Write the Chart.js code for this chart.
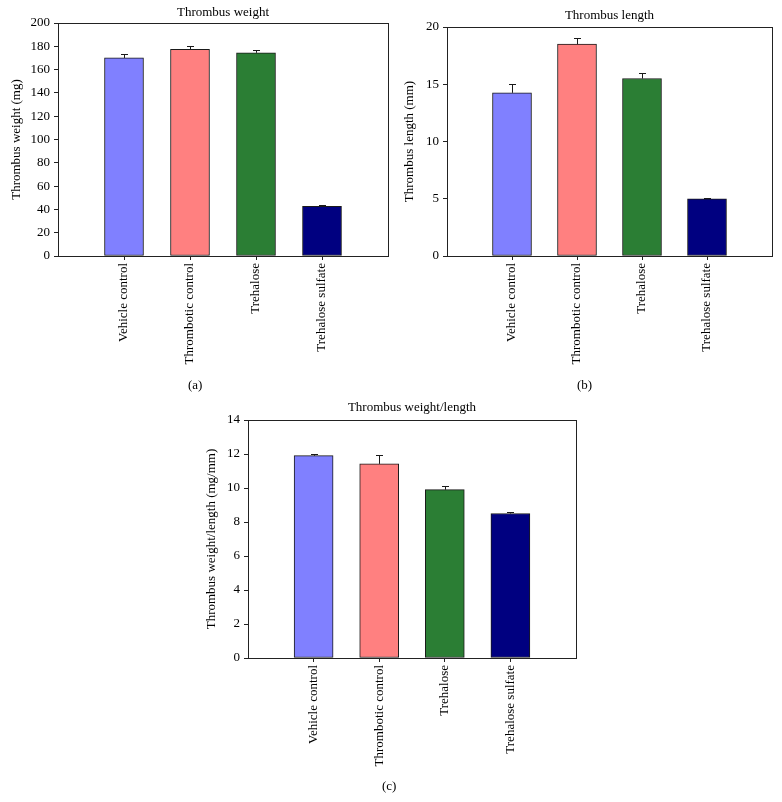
<!DOCTYPE html>
<html>
<head>
<meta charset="utf-8">
<script src="https://cdn.jsdelivr.net/npm/chart.js@4/dist/chart.umd.min.js"></script>
<style>
  html, body { margin: 0; padding: 0; background: #fff; }
  body { width: 782px; height: 802px; position: relative; overflow: hidden; }
  canvas { position: absolute; }
  .panel-label { position: absolute; font-family: 'Liberation Serif', serif; font-size: 13px; color: #000; }
</style>
</head>
<body>
<canvas id="chartA" width="408" height="375" style="left:0px;top:0px"></canvas>
<canvas id="chartB" width="392" height="375" style="left:400px;top:0px"></canvas>
<canvas id="chartC" width="401" height="390" style="left:195px;top:390px"></canvas>
<div class="panel-label" style="left:188px;top:377px">(a)</div>
<div class="panel-label" style="left:577px;top:377px">(b)</div>
<div class="panel-label" style="left:382px;top:778px">(c)</div>
<script>
// ---- data ----
const categories = ['Vehicle control', 'Thrombotic control', 'Trehalose', 'Trehalose sulfate'];
const weightMeans = [170, 177.4, 174.4, 42.6];
const weightErrors = [3, 3, 2, 0.8];
const lengthMeans = [14.25, 18.5, 15.5, 5.0];
const lengthErrors = [0.75, 0.5, 0.5, 0.05];
const ratioMeans = [11.9, 11.42, 9.9, 8.5];
const ratioErrors = [0.08, 0.55, 0.24, 0.08];
const weightTicks = [0, 20, 40, 60, 80, 100, 120, 140, 160, 180, 200];
const lengthTicks = [0, 5, 10, 15, 20];
const ratioTicks = [0, 2, 4, 6, 8, 10, 12, 14];
const barColors = ['#8080FF', '#FF8080', '#2B7E34', '#000080'];

// ---- helpers ----
const pad = arr => [null, ...arr, null];
const paddedLabels = ['', ...categories, ''];

Chart.defaults.font.family = "'Liberation Serif', 'Times New Roman', serif";
Chart.defaults.font.size = 13;
Chart.defaults.color = '#000';

const errorBars = {
  id: 'errorBars',
  afterDatasetsDraw(chart, args, opts) {
    const errs = opts.errors;
    if (!errs) return;
    const meta = chart.getDatasetMeta(0);
    const vals = chart.data.datasets[0].data;
    const ys = chart.scales.y;
    const ctx = chart.ctx;
    ctx.save();
    ctx.strokeStyle = opts.color || '#000';
    ctx.lineWidth = 1;
    meta.data.forEach((bar, i) => {
      const v = vals[i], e = errs[i];
      if (v == null || e == null) return;
      const x = Math.round(bar.x) + 0.5;
      const y0 = ys.getPixelForValue(v);
      const y1 = Math.round(ys.getPixelForValue(v + e)) + 0.5;
      ctx.beginPath();
      ctx.moveTo(x, y0);
      ctx.lineTo(x, y1);
      ctx.moveTo(x - opts.capHalf, y1);
      ctx.lineTo(x + opts.capHalf, y1);
      ctx.stroke();
    });
    ctx.restore();
  }
};

function makeChart(id, means, errors, ticks, title, yTitle, L) {
  const lineColor = '#222';
  return new Chart(document.getElementById(id), {
    type: 'bar',
    data: {
      labels: paddedLabels,
      datasets: [{
        data: pad(means),
        backgroundColor: pad(barColors),
        borderColor: '#1a1a1a',
        borderWidth: 1,
        borderSkipped: false,
        barThickness: 39
      }]
    },
    options: {
      responsive: false,
      animation: false,
      devicePixelRatio: 1,
      layout: { padding: 0 },
      plugins: {
        legend: { display: false },
        tooltip: { enabled: false },
        title: {
          display: true,
          text: title,
          fullSize: false,
          font: { size: 13, weight: 'normal' },
          color: '#000',
          padding: { top: L.titleTop, bottom: L.titleBottom }
        },
        errorBars: { errors: pad(errors), color: '#1a1a1a', capHalf: 3.5 }
      },
      scales: {
        x: {
          type: 'category',
          position: 'bottom',
          offset: false,
          grid: {
            offset: false,
            drawOnChartArea: false,
            drawTicks: true,
            tickLength: 4,
            color: c => (c.index === 0 || c.index === paddedLabels.length - 1) ? 'rgba(0,0,0,0)' : lineColor
          },
          border: { display: true, color: lineColor, width: 1 },
          ticks: { autoSkip: false, minRotation: 90, maxRotation: 90, padding: 3, color: '#000' },
          afterFit: s => { s.height = L.xHeight; }
        },
        x2: {
          type: 'category',
          axis: 'x',
          position: 'top',
          offset: false,
          grid: { display: true, drawOnChartArea: false, drawTicks: false, color: 'rgba(0,0,0,0)' },
          border: { display: true, color: lineColor, width: 1 },
          ticks: { display: false },
          afterFit: s => { s.height = 0; }
        },
        y: {
          type: 'linear',
          position: 'left',
          min: ticks[0],
          max: ticks[ticks.length - 1],
          afterBuildTicks: s => { s.ticks = ticks.map(v => ({ value: v })); },
          grid: { drawOnChartArea: false, drawTicks: true, tickLength: 4, color: lineColor },
          border: { display: true, color: lineColor, width: 1 },
          ticks: { padding: 4, color: '#000' },
          title: { display: true, text: yTitle, font: { size: 13 }, color: '#000', padding: { top: L.yTitlePad, bottom: 0 } },
          afterFit: s => { s.width = L.yWidth; }
        },
        y2: {
          type: 'linear',
          axis: 'y',
          position: 'right',
          grid: { display: true, drawOnChartArea: false, drawTicks: false, color: 'rgba(0,0,0,0)' },
          border: { display: true, color: lineColor, width: 1 },
          ticks: { display: false },
          afterFit: s => { s.width = L.rWidth; }
        }
      }
    },
    plugins: [errorBars]
  });
}

makeChart('chartA', weightMeans, weightErrors, weightTicks, 'Thrombus weight', 'Thrombus weight (mg)',
  { titleTop: 5.0, titleBottom: 2.4, xHeight: 119, yWidth: 58, rWidth: 20, yTitlePad: 8.7 });
makeChart('chartB', lengthMeans, lengthErrors, lengthTicks, 'Thrombus length', 'Thrombus length (mm)',
  { titleTop: 8.1, titleBottom: 3.3, xHeight: 119, yWidth: 47, rWidth: 20, yTitlePad: 1.9 });
makeChart('chartC', ratioMeans, ratioErrors, ratioTicks, 'Thrombus weight/length', 'Thrombus weight/length (mg/mm)',
  { titleTop: 9.8, titleBottom: 4.6, xHeight: 122, yWidth: 53, rWidth: 20, yTitlePad: 8.9 });
</script>
</body>
</html>
